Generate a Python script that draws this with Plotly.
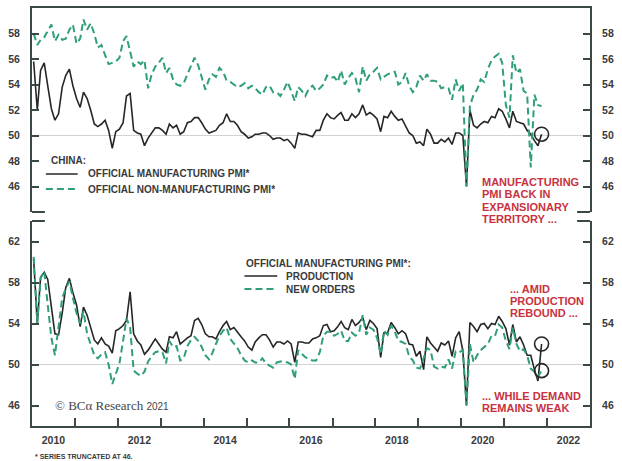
import pandas as pd
import plotly.graph_objects as go

# ---------------- data (monthly, Jan 2010 - Nov 2021; values shown truncated at 46) ----------------
months = pd.date_range("2010-01-01", "2021-11-01", freq="MS") + pd.Timedelta(days=14)

mfg_pmi = [
    55.8, 52.0, 55.1, 55.7, 53.9, 52.1, 51.2, 51.7, 53.8, 54.7, 55.2, 53.9,
    52.9, 52.2, 53.4, 52.9, 52.0, 50.9, 50.7, 50.9, 51.2, 50.4, 49.0, 50.3,
    50.5, 51.0, 53.1, 53.3, 50.4, 50.2, 50.1, 49.2, 49.8, 50.2, 50.6, 50.6,
    50.4, 50.1, 50.9, 50.6, 50.8, 50.1, 50.3, 51.0, 51.1, 51.4, 51.4, 51.0,
    50.5, 50.2, 50.3, 50.4, 50.8, 51.0, 51.7, 51.1, 51.1, 50.8, 50.3, 50.1,
    49.8, 49.9, 50.1, 50.1, 50.2, 50.2, 50.0, 49.7, 49.8, 49.8, 49.6, 49.7,
    49.4, 49.0, 50.2, 50.1, 50.1, 50.0, 49.9, 50.4, 50.4, 51.2, 51.7, 51.4,
    51.3, 51.6, 51.8, 51.2, 51.2, 51.7, 51.4, 51.7, 52.4, 51.6, 51.8, 51.6,
    51.3, 50.3, 51.5, 51.4, 51.9, 51.5, 51.2, 51.3, 50.8, 50.2, 50.0, 49.4,
    49.5, 49.2, 50.5, 50.1, 49.4, 49.4, 49.7, 49.5, 49.8, 49.3, 50.2, 50.2,
    50.0, 46.0, 52.0, 50.8, 50.6, 50.9, 51.1, 51.0, 51.5, 51.4, 52.1, 51.9,
    51.3, 50.6, 51.9, 51.1, 51.0, 50.9, 50.4, 50.1, 49.6, 49.2, 50.1,
]

nonmfg_pmi = [
    58.0, 57.1, 57.5, 57.7, 58.2, 58.7, 57.4, 57.9, 57.5, 57.6, 58.3, 58.7,
    57.2, 57.6, 59.1, 58.3, 58.8, 58.0, 56.9, 57.1, 56.3, 55.6, 55.7, 55.8,
    56.1, 57.4, 57.8, 56.6, 55.4, 55.8, 55.6, 55.9, 53.7, 54.8, 55.4, 55.7,
    56.1, 54.9, 55.3, 54.4, 54.0, 53.9, 54.1, 54.8, 55.4, 56.1, 55.5, 54.5,
    53.6, 54.4, 54.8, 54.6, 55.3, 55.0, 54.3, 54.2, 54.0, 53.8, 53.9, 54.1,
    53.7, 53.9, 53.7, 53.4, 53.2, 53.8, 53.9, 53.4, 53.4, 53.1, 53.6, 54.2,
    53.5, 52.7, 53.8, 53.5, 53.1, 53.7, 53.9, 53.5, 53.7, 54.0, 54.7, 54.5,
    54.6, 54.2, 55.1, 54.0, 54.5, 54.9, 54.5, 53.4, 55.4, 54.3, 54.8, 55.0,
    55.3, 54.4, 54.6, 54.8, 54.9, 55.0, 54.0, 54.2, 54.9, 53.9, 53.4, 53.8,
    54.7, 54.3, 54.8, 54.3, 54.3, 54.2, 53.7, 53.8, 53.7, 52.8, 54.4, 53.5,
    54.1, 46.0, 52.3, 53.2, 53.6, 54.4, 54.2, 55.2, 55.9, 56.2, 56.4, 55.7,
    52.4, 51.4, 56.3, 54.9, 55.2, 53.5, 53.3, 47.5, 53.2, 52.4, 52.3,
]

production = [
    60.3, 54.0, 58.5, 59.0, 58.3, 55.6, 53.0, 52.9, 55.0, 57.5, 58.4, 57.0,
    55.8, 53.7, 55.6, 54.8, 53.5, 52.4, 52.0, 52.6, 52.0, 51.8, 51.1, 53.3,
    53.5, 53.8, 54.3, 57.1, 53.0, 52.3, 51.9, 51.0, 51.4, 52.0, 52.5, 52.0,
    51.5, 51.2, 52.7, 52.6, 53.2, 52.0, 52.3, 52.6, 52.8, 54.3, 54.5, 53.9,
    53.0, 52.7, 52.7, 52.5, 53.2, 53.8, 54.2, 53.4, 53.6, 53.1, 52.7, 52.3,
    51.7, 51.4, 52.2, 52.6, 52.9, 52.9, 52.4, 51.7, 52.2, 52.2, 52.0, 52.3,
    52.0, 50.2, 52.2, 52.2, 52.1, 52.1, 52.5, 52.6, 52.8, 53.8, 53.9, 53.2,
    53.3, 53.7, 54.2, 53.6, 53.4, 54.4, 53.8, 54.1, 54.6, 53.4, 54.3, 54.0,
    53.5, 50.7, 53.1, 53.1, 54.1, 53.6, 53.0, 53.3, 53.0, 52.0, 51.9, 50.8,
    51.3, 49.5, 52.7, 52.1, 51.7, 51.3, 52.1, 51.9, 52.3, 50.8, 52.6, 53.2,
    51.3, 46.0, 54.1, 53.7, 53.2, 53.9, 54.0, 53.5, 54.0, 53.9, 54.7, 54.2,
    53.5, 51.9, 53.9, 52.2, 52.7, 51.9, 50.9, 50.9, 49.5, 48.4, 52.0,
]

new_orders = [
    60.5, 54.0, 58.4, 59.1, 55.8, 52.6, 50.9, 53.5, 56.5, 57.4, 58.1, 56.5,
    55.0, 54.0, 55.2, 53.0, 52.0, 50.9, 50.6, 51.0, 51.2, 50.0, 48.1, 49.2,
    50.1, 52.3, 54.5, 53.6, 49.4, 49.1, 48.9, 49.3, 50.3, 50.8, 51.2, 51.3,
    51.2, 50.1, 52.3, 51.7, 51.8, 50.4, 50.6, 51.8, 52.4, 52.7, 52.3, 51.7,
    50.9, 50.5, 51.1, 52.0, 52.8, 53.3, 53.6, 52.5, 52.0, 51.6, 50.9, 50.4,
    50.2, 50.4, 50.2, 50.2, 50.6, 50.1, 49.9, 49.7, 50.2, 50.3, 50.3, 50.2,
    50.0, 48.6, 51.4, 51.0, 50.7, 50.5, 50.4, 50.4, 51.2, 52.8, 53.2, 53.2,
    52.8, 53.0, 53.3, 52.3, 52.3, 53.1, 52.8, 53.1, 54.8, 52.9, 53.6, 53.4,
    52.6, 51.0, 53.3, 52.9, 53.8, 53.2, 52.3, 52.2, 52.0, 50.8, 50.4, 49.7,
    49.6, 50.6, 51.6, 51.4, 49.8, 49.6, 49.8, 49.7, 50.5, 49.6, 51.3, 51.2,
    51.4, 46.0, 52.0, 50.2, 50.9, 51.4, 51.7, 52.0, 52.8, 52.8, 53.9, 53.6,
    52.3, 51.5, 53.6, 52.0, 51.3, 51.5, 50.9, 49.6, 49.3, 48.8, 49.4,
]

top_ticks = [46, 48, 50, 52, 54, 56, 58]
bottom_ticks = [46, 50, 54, 58, 62]
label_years = [2010, 2012, 2014, 2016, 2018, 2020, 2022]
tick_years = list(range(2011, 2023))

# ---------------- styling ----------------
W, H = 622, 461
ML, MR, MT, MB = 31, 29, 8, 35
PW, PH = W - ML - MR, H - MT - MB
FR = "#3b4848"
BLACK = "#262626"
GREEN = "#2e9f78"
RED = "#c8323e"
TXT = "#3a3a3a"
SANS = "Liberation Sans, Arial, sans-serif"
SERIF = "Liberation Serif, Times New Roman, serif"
TICKFONT = dict(family=SANS, size=10.5, color=TXT, weight="bold")
DASH = "7px,4px"


def px(x):
    return (x - ML) / PW


def py(y):
    return (H - MB - y) / PH


top_dom = [py(212), 1.0]
bot_dom = [0.0, py(221)]
xrange_ = ["2010-01-01", "2023-01-01"]

fig = go.Figure()

fig.add_trace(go.Scatter(x=months, y=mfg_pmi, xaxis="x", yaxis="y", mode="lines",
                         line=dict(color=BLACK, width=1.6), name="OFFICIAL MANUFACTURING PMI*",
                         showlegend=False))
fig.add_trace(go.Scatter(x=months, y=nonmfg_pmi, xaxis="x", yaxis="y2", mode="lines",
                         line=dict(color=GREEN, width=2, dash=DASH), name="OFFICIAL NON-MANUFACTURING PMI*",
                         showlegend=False))
fig.add_trace(go.Scatter(x=[months[-1]], y=[mfg_pmi[-1]], xaxis="x", yaxis="y2", mode="markers",
                         marker=dict(symbol="circle-open", size=14, color=BLACK, line=dict(width=1.6)),
                         showlegend=False, hoverinfo="skip"))

fig.add_trace(go.Scatter(x=months, y=production, xaxis="x2", yaxis="y3", mode="lines",
                         line=dict(color=BLACK, width=1.6), name="PRODUCTION", showlegend=False))
fig.add_trace(go.Scatter(x=months, y=new_orders, xaxis="x2", yaxis="y4", mode="lines",
                         line=dict(color=GREEN, width=2, dash=DASH), name="NEW ORDERS", showlegend=False))
fig.add_trace(go.Scatter(x=[months[-1], months[-1]], y=[production[-1], new_orders[-1]],
                         xaxis="x2", yaxis="y4", mode="markers",
                         marker=dict(symbol="circle-open", size=14, color=BLACK, line=dict(width=1.6)),
                         showlegend=False, hoverinfo="skip"))

yax = dict(showline=True, linecolor=FR, linewidth=2, ticks="inside", ticklen=7, tickwidth=1.5,
           tickcolor=FR, showgrid=False, zeroline=False, tickfont=TICKFONT, ticklabelstandoff=8,
           fixedrange=True)

fig.update_layout(
    width=W, height=H,
    margin=dict(l=ML, r=MR, t=MT, b=MB),
    paper_bgcolor="white", plot_bgcolor="white",
    xaxis=dict(domain=[0, 1], anchor="y", side="top", type="date", range=xrange_,
               showline=True, linecolor=FR, linewidth=2, ticks="", showticklabels=False,
               showgrid=False, zeroline=False, matches="x2"),
    yaxis=dict(domain=top_dom, anchor="x", range=[44, 60], tickvals=top_ticks, side="left", **yax),
    yaxis2=dict(overlaying="y", anchor="x", side="right", matches="y", range=[44, 60],
                tickvals=top_ticks, **yax),
    xaxis2=dict(domain=[0, 1], anchor="y3", side="bottom", type="date", range=xrange_,
                showline=True, linecolor=FR, linewidth=2, showgrid=False, zeroline=False,
                tickvals=[f"{y}-07-02" for y in label_years], ticktext=[str(y) for y in label_years],
                ticks="inside", ticklen=0, tickfont=TICKFONT, ticklabelstandoff=3,
                minor=dict(tickvals=[f"{y}-01-01" for y in tick_years], ticks="inside",
                           ticklen=8, tickwidth=1.5, tickcolor=FR, showgrid=False)),
    yaxis3=dict(domain=bot_dom, anchor="x2", range=[44, 64], tickvals=bottom_ticks, side="left", **yax),
    yaxis4=dict(overlaying="y3", anchor="x2", side="right", matches="y3", range=[44, 64],
                tickvals=bottom_ticks, **yax),
    showlegend=False,
)

shapes = []
# reference line at 50 in both panels
for yref in ("y", "y3"):
    shapes.append(dict(type="line", xref="paper", yref=yref, x0=0, x1=1, y0=50, y1=50,
                       line=dict(color="#d2d2d2", width=1), layer="below"))
# corner stubs of the panel frames
stub = px(ML + 13)
for yy in (top_dom[0], bot_dom[1]):
    shapes.append(dict(type="line", xref="paper", yref="paper", x0=0, x1=stub, y0=yy, y1=yy,
                       line=dict(color=FR, width=2)))
    shapes.append(dict(type="line", xref="paper", yref="paper", x0=1 - stub, x1=1, y0=yy, y1=yy,
                       line=dict(color=FR, width=2)))
# legend keys
shapes.append(dict(type="line", xref="paper", yref="paper", x0=px(45), x1=px(77), y0=py(174), y1=py(174),
                   line=dict(color=BLACK, width=1.6)))
shapes.append(dict(type="line", xref="paper", yref="paper", x0=px(45), x1=px(77), y0=py(189), y1=py(189),
                   line=dict(color=GREEN, width=2, dash=DASH)))
shapes.append(dict(type="line", xref="paper", yref="paper", x0=px(245), x1=px(278), y0=py(276), y1=py(276),
                   line=dict(color=BLACK, width=1.6)))
shapes.append(dict(type="line", xref="paper", yref="paper", x0=px(245), x1=px(278), y0=py(289), y1=py(289),
                   line=dict(color=GREEN, width=2, dash=DASH)))
fig.update_layout(shapes=shapes)

LEGFONT = dict(family=SANS, size=10, color=TXT, weight="bold")
REDFONT = dict(family=SANS, size=11, color=RED, weight="bold")


def note(text, x, y, font, xanchor="left"):
    fig.add_annotation(text=text, x=px(x), y=py(y), xref="paper", yref="paper",
                       xanchor=xanchor, yanchor="middle", showarrow=False, font=font,
                       align="left")


note("CHINA:", 48, 160, LEGFONT)
note("OFFICIAL MANUFACTURING PMI*", 85, 174, LEGFONT)
note("OFFICIAL NON-MANUFACTURING PMI*", 85, 189, LEGFONT)

note("OFFICIAL MANUFACTURING PMI*:", 245, 263, LEGFONT)
note("PRODUCTION", 285, 276, LEGFONT)
note("NEW ORDERS", 285, 289, LEGFONT)

for i, line in enumerate(["MANUFACTURING", "PMI BACK IN", "EXPANSIONARY", "TERRITORY ..."]):
    note(line, 482, 182 + i * 12.4, REDFONT)
for i, line in enumerate(["... AMID", "PRODUCTION", "REBOUND ..."]):
    note(line, 510, 289 + i * 12.2, REDFONT)
for i, line in enumerate(["... WHILE DEMAND", "REMAINS WEAK"]):
    note(line, 482, 395.5 + i * 12.5, REDFONT)

note("© BCα Research <span style='font-family:Liberation Sans, Arial, sans-serif;font-size:10px'>2021</span>",
     52, 405, dict(family=SERIF, size=13, color="#444444"))
note("* SERIES TRUNCATED AT 46.", 32, 457, dict(family=SANS, size=7, color=TXT, weight="bold"))

fig.write_html("out.html")
